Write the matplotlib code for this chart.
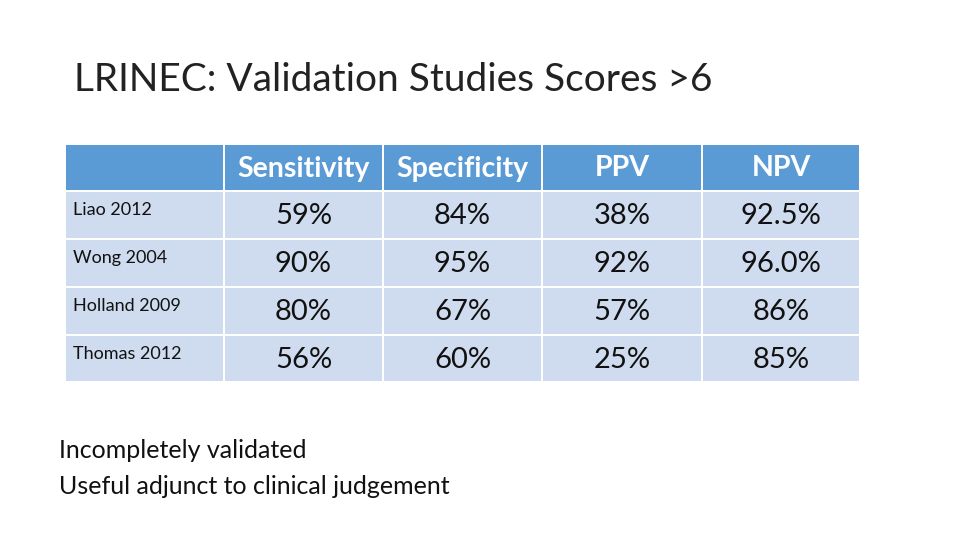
import matplotlib
matplotlib.use("Agg")
import matplotlib.pyplot as plt
from matplotlib.patches import Rectangle

title = "LRINEC: Validation Studies Scores >6"
headers = ["", "Sensitivity", "Specificity", "PPV", "NPV"]
studies = ["Liao 2012", "Wong 2004", "Holland 2009", "Thomas 2012"]
sensitivity = ["59%", "90%", "80%", "56%"]
specificity = ["84%", "95%", "67%", "60%"]
ppv = ["38%", "92%", "57%", "25%"]
npv = ["92.5%", "96.0%", "86%", "85%"]
notes = ["Incompletely validated", "Useful adjunct to clinical judgement"]

FONT = ["Lato", "DejaVu Sans"]
fig = plt.figure(figsize=(9.6, 5.4), dpi=100)
ax = fig.add_axes([0, 0, 1, 1])
ax.set_xlim(0, 960); ax.set_ylim(540, 0); ax.axis("off")

ax.text(74, 80, title, fontsize=28, family=FONT, color="#222222", va="center", ha="left")

xb = [66, 225, 384, 543, 703, 861]
yb = [145, 192, 240, 288, 336, 383]
g = 2
header_c = "#5B9BD5"; body_c = "#CFDBEE"
for j in range(5):
    ax.add_patch(Rectangle((xb[j], yb[0]), xb[j+1]-xb[j]-g, yb[1]-yb[0]-g, color=header_c, lw=0))
    if headers[j]:
        ax.text((xb[j]+xb[j+1]-g)/2, (yb[0]+yb[1])/2, headers[j], fontsize=20.5, family=FONT,
                weight="bold", color="white", ha="center", va="center")
cols = [sensitivity, specificity, ppv, npv]
for i, s in enumerate(studies):
    for j in range(5):
        ax.add_patch(Rectangle((xb[j], yb[i+1]), xb[j+1]-xb[j]-g, yb[i+2]-yb[i+1]-g, color=body_c, lw=0))
    ax.text(73, yb[i+1]+18, s, fontsize=13, family=FONT, color="#111111", ha="left", va="center")
    for j, c in enumerate(cols):
        ax.text((xb[j+1]+xb[j+2]-g)/2, (yb[i+1]+yb[i+2])/2, c[i], fontsize=21, family=FONT,
                color="#111111", ha="center", va="center")

for k, n in enumerate(notes):
    ax.text(59, 451+35*k, n, fontsize=18, family=FONT, color="#111111", ha="left", va="center")

fig.savefig("out.png", dpi=100)
